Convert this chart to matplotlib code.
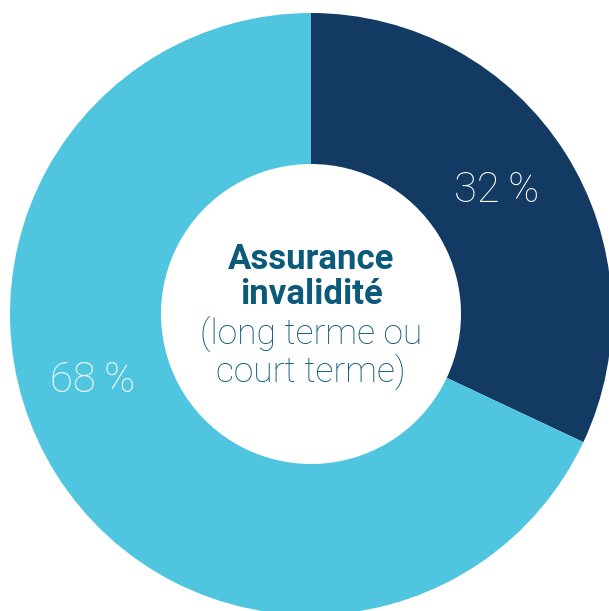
import matplotlib
matplotlib.use("Agg")
import matplotlib.pyplot as plt

categories = ["Court/long terme A", "Court/long terme B"]
values = [32, 68]
labels = ["32\u2009%", "68\u2009%"]
colors = ["#133A62", "#4FC5DF"]
center_title = "Assurance\ninvalidité"
center_sub = "(long terme ou\ncourt terme)"

W, H = 609, 611
fig = plt.figure(figsize=(W / 100, H / 100), dpi=100)
ax = fig.add_axes([0, 0, 1, 1])
ax.set_xlim(0, W)
ax.set_ylim(0, H)
ax.set_aspect("equal")
ax.axis("off")

cx, cy = 311, H - 314
R = 301
wedges, _ = ax.pie(values, colors=colors, startangle=90, counterclock=False,
                   center=(cx, cy), radius=R,
                   wedgeprops=dict(width=151, edgecolor="none"))
ax.set_xlim(0, W)
ax.set_ylim(0, H)

ax.text(497, H - 190, labels[0], color="white", fontsize=30, family=["Roboto", "DejaVu Sans"],
        fontweight="light", ha="center", va="center")
ax.text(93, H - 380, labels[1], color="white", fontsize=30, family=["Roboto", "DejaVu Sans"],
        fontweight="light", ha="center", va="center")

tcol = "#0B5A7A"
ax.text(311, H - 277, center_title, color=tcol, fontsize=25, family="Roboto",
        fontweight="bold", ha="center", va="center", linespacing=1.05)
ax.text(311, H - 354, center_sub, color=tcol, fontsize=25.5, family="Roboto",
        fontweight="light", ha="center", va="center", linespacing=1.05)

fig.savefig("out.png", dpi=100)
